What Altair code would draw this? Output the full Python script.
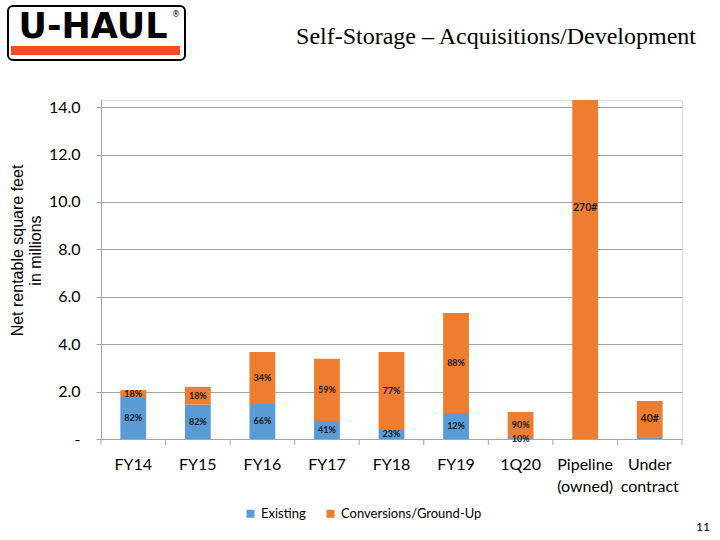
import altair as alt
import pandas as pd

# ---- data ----
categories = ["FY14", "FY15", "FY16", "FY17", "FY18", "FY19", "1Q20",
              "Pipeline\n(owned)", "Under\ncontract"]
existing = [1.73, 1.45, 1.48, 0.76, 0.42, 1.10, 0.04, 0.0, 0.08]
conversions = [0.34, 0.75, 2.19, 2.62, 3.25, 4.22, 1.10, 19.5, 1.52]
existing_labels = ["82%", "82%", "66%", "41%", "23%", "12%", "10%", "", ""]
conversion_labels = ["18%", "18%", "34%", "59%", "77%", "88%", "90%", "270#", "40#"]
series = ["Existing", "Conversions/Ground-Up"]
y_ticks = [0, 2, 4, 6, 8, 10, 12, 14]

BLUE = "#5B9BD5"
ORANGE = "#ED7D31"
GRID = "#A6A6A6"

rows = []
for c, e, v, le, lc in zip(categories, existing, conversions, existing_labels, conversion_labels):
    rows.append({"cat": c, "series": series[0], "start": 0.0, "end": e,
                 "mid": e / 2, "label": le})
    rows.append({"cat": c, "series": series[1], "start": e, "end": e + v,
                 "mid": e + v / 2, "label": lc})
df = pd.DataFrame(rows)
cats_df = pd.DataFrame({"cat": categories})
one = pd.DataFrame({"k": [0]})

W, H = 581, 339
step = W / len(categories)

x_axis = alt.Axis(title=None, labelExpr="split(datum.label, '\\n')", labelFont="Lato",
                  labelFontSize=16, labelColor="black", labelPadding=17,
                  labelLineHeight=22, ticks=False, domainColor=GRID, labelAngle=0,
                  grid=False, labelBaseline="top")
x_enc = alt.X("cat:N", sort=categories,
              scale=alt.Scale(paddingInner=0.6, paddingOuter=0.3), axis=x_axis)

y_axis = alt.Axis(values=y_ticks,
                  labelExpr="datum.value == 0 ? '-' : format(datum.value, '.1f')",
                  title=["Net rentable square feet", "in millions"],
                  titleFont="Liberation Sans", titleFontSize=16, titleFontWeight="normal",
                  titleColor="black", titleX=-76, titleY=150, titleAngle=270,
                  titleAlign="center", titleLineHeight=18,
                  labelFont="Lato", labelFontSize=16, labelColor="black", labelPadding=16,
                  tickSize=5, tickColor=GRID, domainColor=GRID, gridColor=GRID, grid=True)
y_scale = alt.Scale(domain=[0, 14.3], nice=False, zero=True)

bars = alt.Chart(df).mark_bar(clip=True).encode(
    x=x_enc,
    y=alt.Y("start:Q", scale=y_scale, axis=y_axis),
    y2="end:Q",
    color=alt.Color("series:N", scale=alt.Scale(domain=series, range=[BLUE, ORANGE]),
                    legend=alt.Legend(title=None, orient="none", legendX=143, legendY=407,
                                      direction="horizontal", symbolType="square",
                                      symbolSize=64, symbolStrokeWidth=0,
                                      labelFont="Lato", labelFontSize=13,
                                      labelColor="black", columnPadding=18,
                                      labelLimit=300)),
)

labels = alt.Chart(df).transform_filter("datum.label != ''").mark_text(
    font="Lato", fontWeight="bold", baseline="middle", color="#1a1a1a"
).encode(
    x=x_enc,
    y=alt.Y("mid:Q", scale=y_scale, axis=y_axis),
    text="label:N",
    size=alt.condition("indexof(datum.label, '#') >= 0", alt.value(10.5), alt.value(9)),
)

ticks_left = alt.Chart(cats_df).mark_rule(color=GRID, xOffset=-step / 2).encode(
    x=x_enc, y=alt.value(H), y2=alt.value(H + 6))
ticks_right = alt.Chart(cats_df).transform_filter(
    alt.datum.cat == categories[-1]).mark_rule(color=GRID, xOffset=step / 2).encode(
    x=x_enc, y=alt.value(H), y2=alt.value(H + 6))

# ---- slide decorations ----
logo_box = alt.Chart(one).mark_rect(fill="white", stroke="black", strokeWidth=2,
                                    cornerRadius=5).encode(
    x=alt.value(-93), x2=alt.value(84), y=alt.value(-94), y2=alt.value(-40))
logo_bar = alt.Chart(one).mark_rect(fill="#F04E23").encode(
    x=alt.value(-90), x2=alt.value(79), y=alt.value(-54), y2=alt.value(-45))
logo_text = alt.Chart(one).mark_text(text="U-HAUL", font="DejaVu Sans", fontWeight="bold",
                                     fontSize=35, align="center", baseline="alphabetic",
                                     color="black").encode(
    x=alt.value(-8), y=alt.value(-62))
logo_reg = alt.Chart(one).mark_text(text="®", font="DejaVu Sans", fontSize=8,
                                    align="center", baseline="middle", color="black").encode(
    x=alt.value(75), y=alt.value(-85))
title = alt.Chart(one).mark_text(text="Self-Storage – Acquisitions/Development",
                                 font="Liberation Serif", fontSize=24, align="center",
                                 baseline="alphabetic", color="black").encode(
    x=alt.value(395), y=alt.value(-56))
page = alt.Chart(one).mark_text(text="11", font="Lato", fontSize=12, align="center",
                                baseline="middle", color="black").encode(
    x=alt.value(602), y=alt.value(427))

chart = alt.layer(
    bars, labels, ticks_left, ticks_right,
    logo_box, logo_bar, logo_text, logo_reg, title, page
).properties(
    width=W, height=H,
    padding={"left": 101, "top": 100, "right": 38, "bottom": 101},
    autosize=alt.AutoSizeParams(type="none"),
).configure_view(strokeWidth=0).configure(background="white")

chart.save("out.html", embed_options={"renderer": "svg", "actions": False})
